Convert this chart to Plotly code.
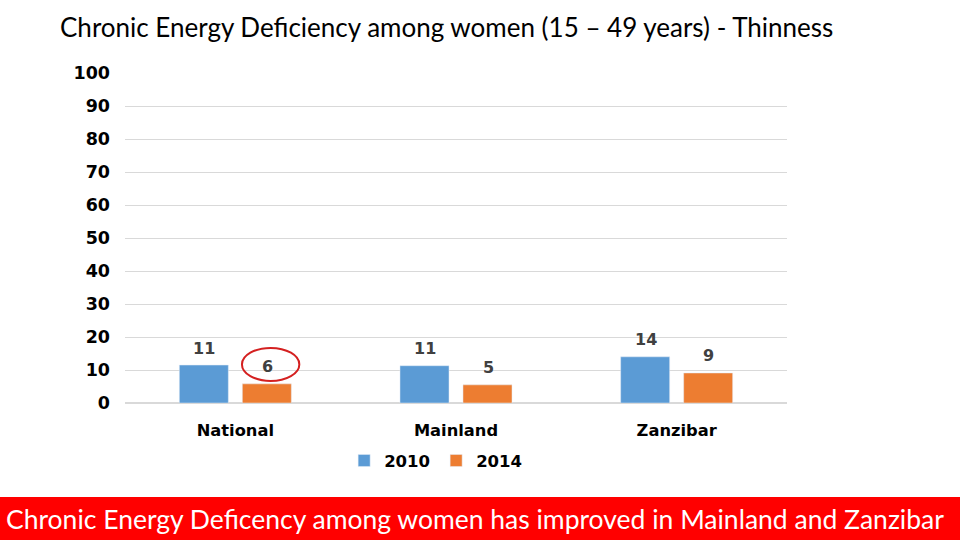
import plotly.graph_objects as go

regions = ["National", "Mainland", "Zanzibar"]
years = ["2010", "2014"]
thin_2010 = [11.5, 11.3, 14.0]
thin_2014 = [5.8, 5.5, 9.1]
labels_2010 = ["11", "11", "14"]
labels_2014 = ["6", "5", "9"]
y_ticks = list(range(0, 101, 10))

colors = {"2010": "#5b9bd5", "2014": "#ed7d31"}

fig = go.Figure()
for year, vals in zip(years, [thin_2010, thin_2014]):
    fig.add_trace(go.Bar(x=regions, y=vals, name=year, marker_color=colors[year]))

# value labels sit a little above each bar
for i, region in enumerate(regions):
    for shift, vals, labs in [(-31, thin_2010, labels_2010), (32, thin_2014, labels_2014)]:
        fig.add_annotation(
            x=region, y=vals[i], text="<b>" + labs[i] + "</b>", showarrow=False,
            xshift=shift, yshift=17,
            font=dict(family="DejaVu Sans", size=16, color="#404040"),
        )

# hand drawn red ring around the national 2014 value
fig.add_shape(
    type="circle", xref="x", yref="y",
    x0=0.03, x1=0.29, y0=6.7, y1=16.7,
    line=dict(color="#d42020", width=2),
)

# red banner at the bottom
fig.add_shape(
    type="rect", xref="paper", yref="paper",
    x0=-0.2, x1=1.3, y0=-0.45, y1=-0.285,
    fillcolor="#ff0000", line_width=0, layer="below",
)
fig.add_annotation(
    xref="paper", yref="paper", x=0.529, y=-0.352, yanchor="middle",
    text="Chronic Energy Deficency among women has improved in Mainland and Zanzibar",
    showarrow=False, font=dict(family="Lato", size=26.5, color="white"),
)

fig.update_layout(
    width=960, height=540,
    margin=dict(l=125, r=173, t=73, b=137),
    paper_bgcolor="white", plot_bgcolor="white",
    title=dict(
        text="Chronic Energy Deficiency among women (15 – 49 years) - Thinness",
        x=60 / 960, xanchor="left", xref="container",
        y=1 - 28 / 540, yanchor="middle",
        font=dict(family="Lato", size=26, color="#000000"),
    ),
    barmode="group", bargap=0.429, bargroupgap=0.222,
    showlegend=True,
    legend=dict(
        orientation="h", x=0.47, xanchor="center", y=-0.175, yanchor="middle",
        itemwidth=30, entrywidth=47, entrywidthmode="pixels",
        font=dict(family="DejaVu Sans", size=16.5, color="#000000", weight="bold"),
    ),
)
fig.update_xaxes(
    tickfont=dict(family="DejaVu Sans", size=16.3, color="#000000", weight="bold"),
    showline=False, showgrid=False, ticks="", ticklabelstandoff=16,
)
fig.update_yaxes(
    range=[0, 100], tickvals=y_ticks, showgrid=True, gridcolor="#d9d9d9",
    zeroline=True, zerolinecolor="#d9d9d9",
    tickfont=dict(family="DejaVu Sans", size=17.5, color="#000000", weight="bold"),
    ticklabelstandoff=14,
)

fig.write_html(
    "out.html",
    config={"displayModeBar": False},
    post_script="document.body.style.margin='0';",
)
